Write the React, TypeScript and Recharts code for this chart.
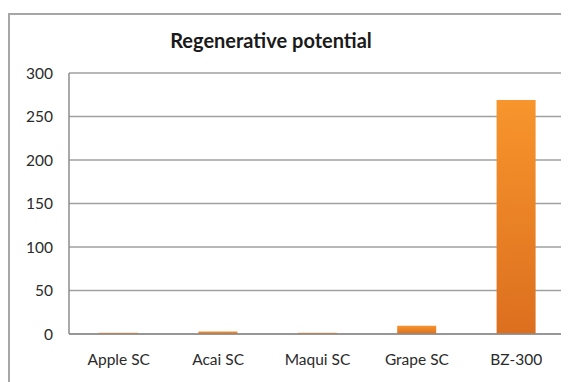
import { BarChart, Bar, XAxis, YAxis, CartesianGrid } from 'recharts'

const categories = ['Apple SC', 'Acai SC', 'Maqui SC', 'Grape SC', 'BZ-300']
const potential = [1.5, 3, 1.5, 9.5, 269]
const yTicks = [0, 50, 100, 150, 200, 250, 300]

const chartData = categories.map((name, i) => ({ name, value: potential[i] }))

const font = 'Lato, "Open Sans", sans-serif'

export default function App() {
  return (
    <div
      style={{
        position: 'relative',
        marginTop: 5,
        borderTop: '2px solid #a6a6a6',
        borderLeft: '2px solid #a6a6a6',
        width: 559,
        height: 367,
        fontFamily: font,
      }}
    >
      <div
        style={{
          position: 'absolute',
          left: 0,
          width: 522,
          top: 13,
          textAlign: 'center',
          fontWeight: 700,
          fontSize: 20,
          color: '#1a1a1a',
        }}
      >
        Regenerative potential
      </div>
      <BarChart
        width={559}
        height={367}
        data={chartData}
        margin={{ top: 58, right: 3, left: 14, bottom: 18 }}
      >
        <defs>
          <linearGradient id="orangeBar" x1="0" y1="0" x2="0" y2="1">
            <stop offset="0%" stopColor="#f8952c" />
            <stop offset="100%" stopColor="#dc6f1f" />
          </linearGradient>
        </defs>
        <CartesianGrid vertical={false} stroke="#a0a0a0" strokeWidth={1.5} />
        <XAxis
          dataKey="name"
          tickLine={false}
          stroke="#8c8c8c"
          strokeWidth={1.5}
          tickSize={0}
          tickMargin={20}
          height={30}
          tick={{ fontSize: 15.5, fill: '#2a2a2a', fontFamily: font }}
        />
        <YAxis
          domain={[0, 300]}
          ticks={yTicks}
          tickLine={false}
          stroke="#8c8c8c"
          strokeWidth={1.5}
          tickSize={0}
          tickMargin={16}
          width={45}
          tick={{ fontSize: 15.5, fill: '#2a2a2a', fontFamily: font }}
        />
        <Bar dataKey="value" fill="url(#orangeBar)" barSize={39} isAnimationActive={false} />
      </BarChart>
    </div>
  )
}
